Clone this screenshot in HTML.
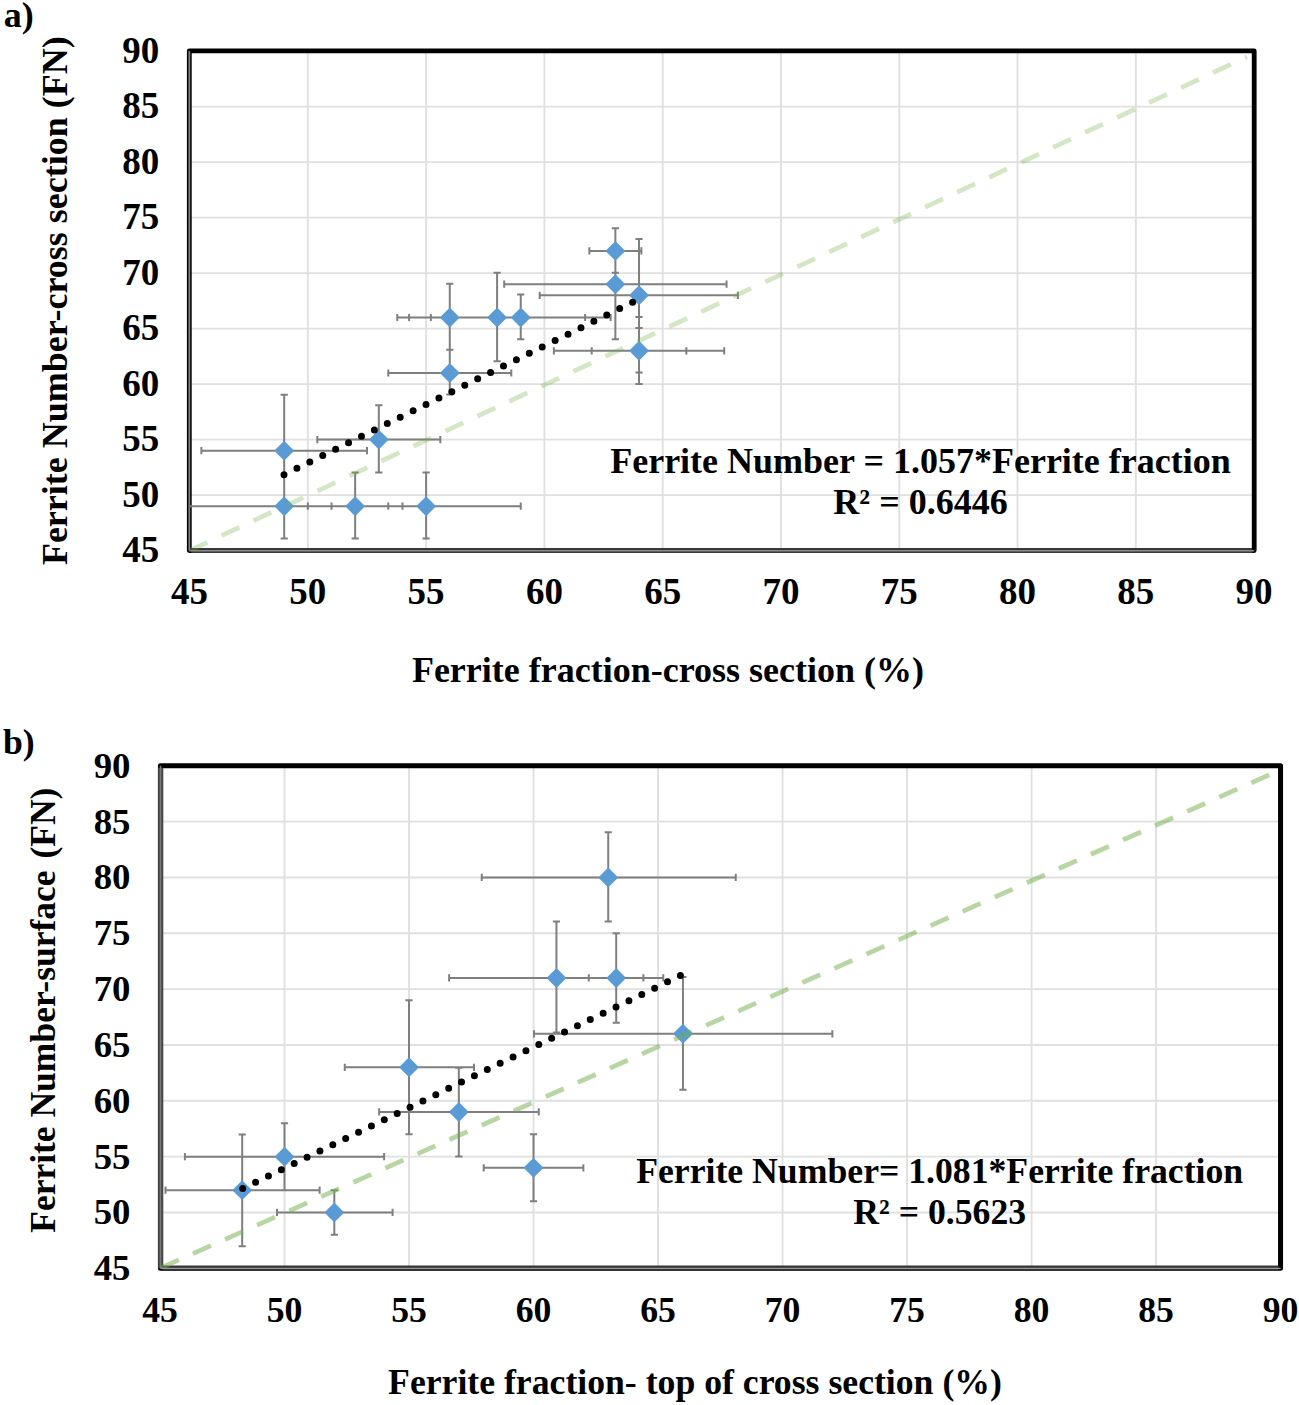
<!DOCTYPE html>
<html><head><meta charset="utf-8"><title>Ferrite Number vs Ferrite fraction</title>
<style>html,body{margin:0;padding:0;background:#fff;}body{width:1299px;height:1405px;overflow:hidden;}svg{display:block;}</style></head><body>
<svg width="1299" height="1405" viewBox="0 0 1299 1405">
<rect x="0" y="0" width="1299" height="1405" fill="#fff"/>
<defs><clipPath id="clipa"><rect x="189.3" y="50.9" width="1064.9" height="499.6"/></clipPath></defs>
<path d="M307.84 50.9V550.5M189.3 495.1H1254.2M426.12 50.9V550.5M189.3 439.6H1254.2M544.41 50.9V550.5M189.3 384.1H1254.2M662.69 50.9V550.5M189.3 328.6H1254.2M780.97 50.9V550.5M189.3 273.1H1254.2M899.25 50.9V550.5M189.3 217.6H1254.2M1017.54 50.9V550.5M189.3 162.1H1254.2M1135.82 50.9V550.5M189.3 106.6H1254.2" stroke="#e0e0e0" stroke-width="1.9" fill="none"/>
<rect x="189.3" y="50.9" width="1064.9" height="499.6" fill="none" stroke="#000" stroke-width="4.8" stroke-linejoin="round"/>
<path d="M191.3 550.5H1252.2" stroke="#383838" stroke-width="4.8" fill="none"/>
<path d="M189.3 50.9V550.5" stroke="#808080" stroke-width="1.8" fill="none"/>
<path d="M189.3 550.8H1254.2" stroke="#888" stroke-width="1.4" fill="none"/>
<g clip-path="url(#clipa)"><path d="M201.39 450.7H366.98M284.19 506.2V394.76M201.39 447.1V454.3M366.98 447.1V454.3M280.59 506.2H287.79M280.59 394.76H287.79M180.1 506.2H388.27M284.19 538.39V506.2M180.1 502.6V509.8M388.27 502.6V509.8M280.59 538.39H287.79M280.59 506.2H287.79M307.84 506.2H402.47M355.16 538.39V472.46M307.84 502.6V509.8M402.47 502.6V509.8M351.56 538.39H358.76M351.56 472.46H358.76M331.5 506.2H520.75M426.12 538.39V472.46M331.5 502.6V509.8M520.75 502.6V509.8M422.52 538.39H429.72M422.52 472.46H429.72M317.3 439.6H440.32M378.81 472.46V405.19M317.3 436V443.2M440.32 436V443.2M375.21 472.46H382.41M375.21 405.19H382.41M388.27 373H511.29M449.78 394.53V349.69M388.27 369.4V376.6M511.29 369.4V376.6M446.18 394.53H453.38M446.18 349.69H453.38M397.26 317.5H502.3M449.78 349.69V283.65M397.26 313.9V321.1M502.3 313.9V321.1M446.18 349.69H453.38M446.18 283.65H453.38M409.09 317.5H585.1M497.09 361.35V272.66M409.09 313.9V321.1M585.1 313.9V321.1M493.49 361.35H500.69M493.49 272.66H500.69M430.86 317.5H610.64M520.75 339.26V294.52M430.86 313.9V321.1M610.64 313.9V321.1M517.15 339.26H524.35M517.15 294.52H524.35M589.35 250.9H641.4M615.38 272.77V228.15M589.35 247.3V254.5M641.4 247.3V254.5M611.78 272.77H618.98M611.78 228.15H618.98M504.19 284.2H726.56M615.38 339.26V228.15M504.19 280.6V287.8M726.56 280.6V287.8M611.78 339.26H618.98M611.78 228.15H618.98M539.68 295.3H737.92M639.03 350.8V239.02M539.68 291.7V298.9M737.92 291.7V298.9M635.43 350.8H642.63M635.43 239.02H642.63M591.72 350.8H686.35M639.03 372.45V328.05M591.72 347.2V354.4M686.35 347.2V354.4M635.43 372.45H642.63M635.43 328.05H642.63M553.87 350.8H724.2M639.03 383.88V316.95M553.87 347.2V354.4M724.2 347.2V354.4M635.43 383.88H642.63M635.43 316.95H642.63" stroke="#7f7f7f" stroke-width="2" fill="none"/></g>
<path d="M284.19 440.75L294.14 450.7L284.19 460.65L274.24 450.7ZM284.19 496.25L294.14 506.2L284.19 516.15L274.24 506.2ZM355.16 496.25L365.11 506.2L355.16 516.15L345.21 506.2ZM426.12 496.25L436.07 506.2L426.12 516.15L416.17 506.2ZM378.81 429.65L388.76 439.6L378.81 449.55L368.86 439.6ZM449.78 363.05L459.73 373L449.78 382.95L439.83 373ZM449.78 307.55L459.73 317.5L449.78 327.45L439.83 317.5ZM497.09 307.55L507.04 317.5L497.09 327.45L487.14 317.5ZM520.75 307.55L530.7 317.5L520.75 327.45L510.8 317.5ZM615.38 240.95L625.33 250.9L615.38 260.85L605.43 250.9ZM615.38 274.25L625.33 284.2L615.38 294.15L605.43 284.2ZM639.03 285.35L648.98 295.3L639.03 305.25L629.08 295.3ZM639.03 340.85L648.98 350.8L639.03 360.75L629.08 350.8ZM639.03 340.85L648.98 350.8L639.03 360.75L629.08 350.8Z" fill="#5b9bd5"/>
<line x1="284" y1="474.7" x2="633.5" y2="301.76" stroke="#000" stroke-width="7" stroke-linecap="round" stroke-dasharray="0 14.4054"/>
<g clip-path="url(#clipa)"><line x1="189.56" y1="550.6" x2="1247" y2="56.9" stroke="#70ad47" stroke-opacity="0.31" stroke-width="4.7" stroke-dasharray="19.6 15.7" stroke-dashoffset="0"/></g>
<defs><clipPath id="clipb"><rect x="160.4" y="765.85" width="1120.15" height="502.4"/></clipPath></defs>
<path d="M284.51 765.85V1268.25M160.4 1212.47H1280.55M409.02 765.85V1268.25M160.4 1156.63H1280.55M533.53 765.85V1268.25M160.4 1100.8H1280.55M658.04 765.85V1268.25M160.4 1044.97H1280.55M782.56 765.85V1268.25M160.4 989.13H1280.55M907.07 765.85V1268.25M160.4 933.3H1280.55M1031.58 765.85V1268.25M160.4 877.47H1280.55M1156.09 765.85V1268.25M160.4 821.63H1280.55" stroke="#e0e0e0" stroke-width="1.9" fill="none"/>
<rect x="160.4" y="765.85" width="1120.15" height="502.4" fill="none" stroke="#000" stroke-width="5.0" stroke-linejoin="round"/>
<path d="M160.7 767.85V1268.25" stroke="#474747" stroke-width="5.2" fill="none"/>
<path d="M162.4 1268.25H1278.55" stroke="#333" stroke-width="5" fill="none"/>
<path d="M160.5 765.85V1268.25" stroke="#7a7a7a" stroke-width="1.5" fill="none"/>
<path d="M160.4 1268.45H1280.55" stroke="#999" stroke-width="1.2" fill="none"/>
<g clip-path="url(#clipb)"><path d="M165.48 1190.13H319.62M242.18 1246.3V1134.52M165.48 1186.53V1193.73M319.62 1186.53V1193.73M238.58 1246.3H245.78M238.58 1134.52H245.78M184.9 1156.63H384.12M284.51 1190.13V1123.13M184.9 1153.03V1160.23M384.12 1153.03V1160.23M280.91 1190.13H288.11M280.91 1123.13H288.11M277.04 1212.47H392.59M334.32 1234.8V1190.13M277.04 1208.87V1216.07M392.59 1208.87V1216.07M330.72 1234.8H337.92M330.72 1190.13H337.92M344.77 1067.3H474.02M409.02 1134.3V1000.3M344.77 1063.7V1070.9M474.02 1063.7V1070.9M405.42 1134.3H412.62M405.42 1000.3H412.62M379.14 1111.97H538.76M458.83 1156.41V1067.75M379.14 1108.37V1115.57M538.76 1108.37V1115.57M455.23 1156.41H462.43M455.23 1067.75H462.43M483.73 1167.8H583.34M533.53 1201.3V1134.3M483.73 1164.2V1171.4M583.34 1164.2V1171.4M529.93 1201.3H537.13M529.93 1134.3H537.13M481.74 877.47H735.74M608.24 921.58V832.35M481.74 873.87V881.07M735.74 873.87V881.07M604.64 921.58H611.84M604.64 832.35H611.84M449.11 977.97H663.27M556.44 1032.46V921.58M449.11 974.37V981.57M663.27 974.37V981.57M552.84 1032.46H560.04M552.84 921.58H560.04M588.82 977.97H643.35M616.21 1022.63V933.3M588.82 974.37V981.57M643.35 974.37V981.57M612.61 1022.63H619.81M612.61 933.3H619.81M534.03 1033.8H832.36M682.95 1089.63V976.96M534.03 1030.2V1037.4M832.36 1030.2V1037.4M679.35 1089.63H686.55M679.35 976.96H686.55" stroke="#7f7f7f" stroke-width="2" fill="none"/></g>
<path d="M242.18 1180.18L252.13 1190.13L242.18 1200.08L232.23 1190.13ZM284.51 1146.68L294.46 1156.63L284.51 1166.58L274.56 1156.63ZM334.32 1202.52L344.27 1212.47L334.32 1222.42L324.37 1212.47ZM409.02 1057.35L418.97 1067.3L409.02 1077.25L399.07 1067.3ZM458.83 1102.02L468.78 1111.97L458.83 1121.92L448.88 1111.97ZM533.53 1157.85L543.48 1167.8L533.53 1177.75L523.58 1167.8ZM608.24 867.52L618.19 877.47L608.24 887.42L598.29 877.47ZM556.44 968.02L566.39 977.97L556.44 987.92L546.49 977.97ZM616.21 968.02L626.16 977.97L616.21 987.92L606.26 977.97ZM682.95 1023.85L692.9 1033.8L682.95 1043.75L673 1033.8Z" fill="#5b9bd5"/>
<line x1="242.7" y1="1188.6" x2="681.3" y2="975.16" stroke="#000" stroke-width="7" stroke-linecap="round" stroke-dasharray="0 14.3169"/>
<g clip-path="url(#clipb)"><line x1="160" y1="1268.3" x2="1280.6" y2="769.9" stroke="#70ad47" stroke-opacity="0.5" stroke-width="4.7" stroke-dasharray="19.6 15.5" stroke-dashoffset="-1.0"/></g>
<g font-family="'Liberation Serif', serif" font-weight="bold" fill="#000">
<text x="159.3" y="562.05" font-size="37" text-anchor="end" >45</text>
<text x="189.56" y="604" font-size="37" text-anchor="middle" >45</text>
<text x="159.3" y="506.55" font-size="37" text-anchor="end" >50</text>
<text x="307.84" y="604" font-size="37" text-anchor="middle" >50</text>
<text x="159.3" y="451.05" font-size="37" text-anchor="end" >55</text>
<text x="426.12" y="604" font-size="37" text-anchor="middle" >55</text>
<text x="159.3" y="395.55" font-size="37" text-anchor="end" >60</text>
<text x="544.41" y="604" font-size="37" text-anchor="middle" >60</text>
<text x="159.3" y="340.05" font-size="37" text-anchor="end" >65</text>
<text x="662.69" y="604" font-size="37" text-anchor="middle" >65</text>
<text x="159.3" y="284.55" font-size="37" text-anchor="end" >70</text>
<text x="780.97" y="604" font-size="37" text-anchor="middle" >70</text>
<text x="159.3" y="229.05" font-size="37" text-anchor="end" >75</text>
<text x="899.25" y="604" font-size="37" text-anchor="middle" >75</text>
<text x="159.3" y="173.55" font-size="37" text-anchor="end" >80</text>
<text x="1017.54" y="604" font-size="37" text-anchor="middle" >80</text>
<text x="159.3" y="118.05" font-size="37" text-anchor="end" >85</text>
<text x="1135.82" y="604" font-size="37" text-anchor="middle" >85</text>
<text x="159.3" y="62.55" font-size="37" text-anchor="end" >90</text>
<text x="1254.1" y="604" font-size="37" text-anchor="middle" >90</text>
<text x="3.8" y="26.9" font-size="36" text-anchor="start" >a)</text>
<text x="411.9" y="682.4" font-size="36" text-anchor="start" >Ferrite fraction-cross section (%)</text>
<text transform="translate(67.2 300.7) rotate(-90)" font-size="36" text-anchor="middle">Ferrite Number-cross section (FN)</text>
<text x="920.5" y="472.5" font-size="36" text-anchor="middle" >Ferrite Number = 1.057*Ferrite fraction</text>
<text x="920.5" y="513.5" font-size="36" text-anchor="middle" >R² = 0.6446</text>
<text x="130.5" y="1280.2" font-size="36.8" text-anchor="end" >45</text>
<text x="160" y="1322" font-size="35.7" text-anchor="middle" >45</text>
<text x="130.5" y="1224.37" font-size="36.8" text-anchor="end" >50</text>
<text x="284.51" y="1322" font-size="35.7" text-anchor="middle" >50</text>
<text x="130.5" y="1168.53" font-size="36.8" text-anchor="end" >55</text>
<text x="409.02" y="1322" font-size="35.7" text-anchor="middle" >55</text>
<text x="130.5" y="1112.7" font-size="36.8" text-anchor="end" >60</text>
<text x="533.53" y="1322" font-size="35.7" text-anchor="middle" >60</text>
<text x="130.5" y="1056.87" font-size="36.8" text-anchor="end" >65</text>
<text x="658.04" y="1322" font-size="35.7" text-anchor="middle" >65</text>
<text x="130.5" y="1001.03" font-size="36.8" text-anchor="end" >70</text>
<text x="782.56" y="1322" font-size="35.7" text-anchor="middle" >70</text>
<text x="130.5" y="945.2" font-size="36.8" text-anchor="end" >75</text>
<text x="907.07" y="1322" font-size="35.7" text-anchor="middle" >75</text>
<text x="130.5" y="889.37" font-size="36.8" text-anchor="end" >80</text>
<text x="1031.58" y="1322" font-size="35.7" text-anchor="middle" >80</text>
<text x="130.5" y="833.53" font-size="36.8" text-anchor="end" >85</text>
<text x="1156.09" y="1322" font-size="35.7" text-anchor="middle" >85</text>
<text x="130.5" y="777.7" font-size="36.8" text-anchor="end" >90</text>
<text x="1280.6" y="1322" font-size="35.7" text-anchor="middle" >90</text>
<text x="3" y="753.5" font-size="35.7" text-anchor="start" >b)</text>
<text x="388.1" y="1394.3" font-size="35.7" text-anchor="start" >Ferrite fraction- top of cross section (%)</text>
<text transform="translate(55 1232.8) rotate(-90)" font-size="35.5">Ferrite Number-surface <tspan dx="3">(FN)</tspan></text>
<text x="939.7" y="1182.5" font-size="35.7" text-anchor="middle" >Ferrite Number= 1.081*Ferrite fraction</text>
<text x="939.7" y="1223.5" font-size="35.7" text-anchor="middle" >R² = 0.5623</text>
</g>
</svg>
</body></html>
